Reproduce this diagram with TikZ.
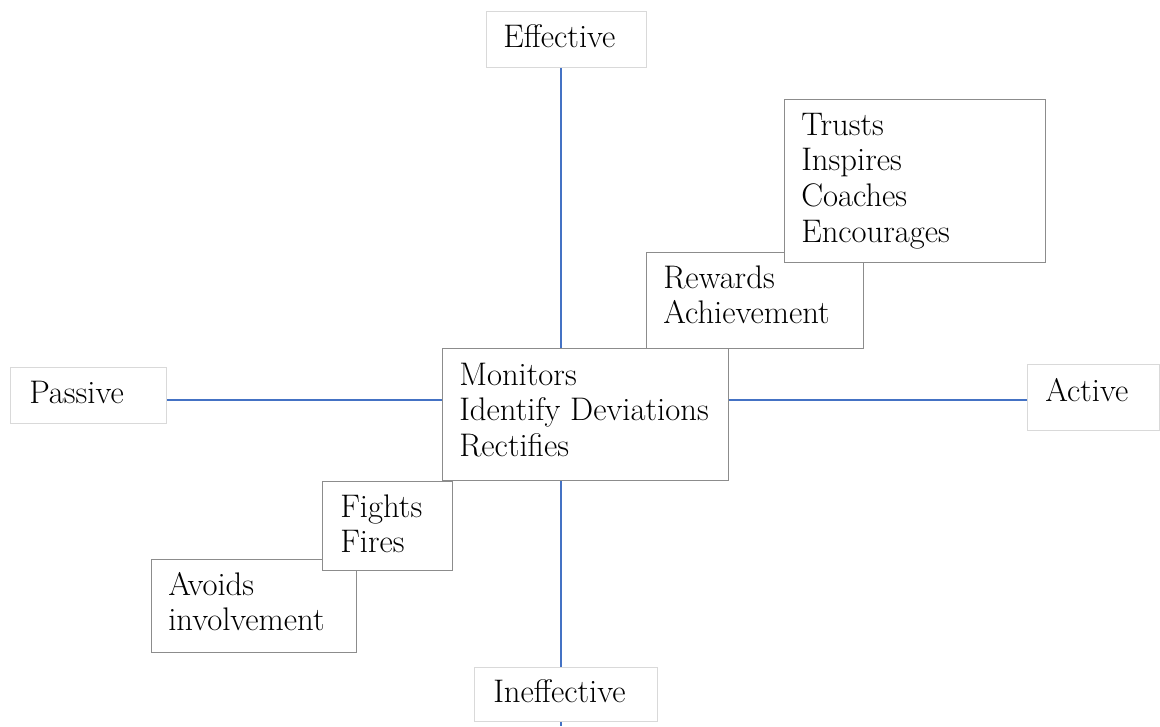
\documentclass[tikz,border=0pt]{standalone}
\usepackage{fontspec}
\usetikzlibrary{calc}
\definecolor{axisblue}{HTML}{4472C4}
\definecolor{lightedge}{HTML}{D9D9D9}
\definecolor{darkedge}{HTML}{8C8C8C}
\begin{document}
\begin{tikzpicture}[x=0.75pt,y=-0.75pt,
  axisbox/.style={draw=lightedge, line width=0.9pt, fill=white, rectangle, inner sep=0pt, anchor=north west},
  itembox/.style={draw=darkedge, line width=0.9pt, fill=white, rectangle, inner sep=0pt, anchor=north west},
  lbl/.style={anchor=north west, inner sep=0pt, align=left, font=\fontsize{24.5pt}{26.7pt}\selectfont},
  axisline/.style={draw=axisblue, line width=0.8pt}]
\useasboundingbox (0,0) rectangle (1160,726);
\coordinate (O) at (561,400);
\coordinate (vend) at (561,726);

% axis boxes
\node[axisbox, minimum width=120pt, minimum height=42pt] (eff) at (486,11) {};
\node[axisbox, minimum width=117pt, minimum height=42pt] (passive) at (10,367) {};
\node[axisbox, minimum width=99pt, minimum height=49.5pt] (active) at (1027,364) {};
\node[axisbox, minimum width=137.25pt, minimum height=40.5pt] (ineff) at (474,667) {};

% item boxes
\node[itembox, minimum width=214.5pt, minimum height=99pt] (center) at (442,348) {};
\node[itembox, minimum width=162.75pt, minimum height=72pt] (rewards) at (646,252) {};
\node[itembox, minimum width=195.75pt, minimum height=122.25pt] (trusts) at (784,99) {};
\node[itembox, minimum width=153.75pt, minimum height=69.75pt] (avoids) at (151,559) {};
\node[itembox, minimum width=97.5pt, minimum height=66.75pt] (fights) at (322,481) {};

% axis lines
\draw[axisline] (eff.south -| O) -- (center.north -| O);
\draw[axisline] (center.south -| O) -- (ineff.north -| O);
\draw[axisline] (ineff.south -| O) -- (vend);
\draw[axisline] (passive.east |- O) -- (center.west |- O);
\draw[axisline] (center.east |- O) -- (active.west |- O);

% texts
\node[lbl] (efft) at ($(eff.north west)+(17,12)$) {\rule{0pt}{18pt}Effective};
\node[lbl] (passivet) at ($(passive.north west)+(19,12)$) {\rule{0pt}{18pt}Passive};
\node[lbl] (activet) at ($(active.north west)+(18,13)$) {\rule{0pt}{18pt}Active};
\node[lbl] (innefft) at ($(ineff.north west)+(19,11)$) {\rule{0pt}{18pt}Ineffective};
\node[lbl] (centert) at ($(center.north west)+(17,13)$) {\rule{0pt}{18pt}Monitors\\Identify Deviations\\Rectifies};
\node[lbl] (rewardst) at ($(rewards.north west)+(17,12)$) {\rule{0pt}{18pt}Rewards\\Achievement};
\node[lbl] (trustst) at ($(trusts.north west)+(17,12)$) {\rule{0pt}{18pt}Trusts\\Inspires\\Coaches\\Encourages};
\node[lbl] (avoidst) at ($(avoids.north west)+(17,12)$) {\rule{0pt}{18pt}Avoids\\involvement};
\node[lbl] (fightst) at ($(fights.north west)+(18,12)$) {\rule{0pt}{18pt}Fights\\Fires};
\end{tikzpicture}
\end{document}
